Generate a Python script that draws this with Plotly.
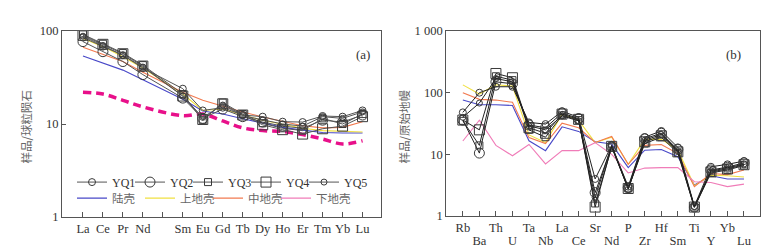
import plotly.graph_objects as go

# ---------------- Panel (a): REE chondrite-normalised ----------------
ree_ticks = ["La", "Ce", "Pr", "Nd", "", "Sm", "Eu", "Gd", "Tb", "Dy", "Ho", "Er", "Tm", "Yb", "Lu"]
ree_elems = ["La", "Ce", "Pr", "Nd", "Sm", "Eu", "Gd", "Tb", "Dy", "Ho", "Er", "Tm", "Yb", "Lu"]

ree_YQ1 = [85, 68, 55, 40, 24, 14, 15, 12.5, 12, 10.6, 10.5, 12.2, 12, 14]
ree_YQ2 = [77, 60, 47, 34, 19, 11.5, 14.5, 12, 10.5, 9.5, 9, 11, 10.5, 12.5]
ree_YQ3 = [92, 73, 58, 43, 21, 11, 17, 12.8, 10.2, 9, 8.5, 11.5, 10, 12.8]
ree_YQ4 = [90, 72, 57, 42, 20, 11.2, 16.5, 12.5, 9.8, 8.7, 7.8, 8.9, 9.5, 12]
ree_YQ5 = [88, 70, 55, 41, 20, 11.8, 16, 12.3, 11, 10, 9.5, 12, 11.5, 13.5]

ree_cc = [54, 45, 38, 30, 18.5, 13.8, 12.8, 11.4, 10.2, 9.2, 8.6, 8.1, 8.0, 8.0]
ree_uc = [83, 68, 53, 40, 21, 14, 14.5, 12.5, 11, 10, 9, 8.5, 8.3, 8.2]
ree_mc = [67, 56, 47, 36, 22, 18, 15.5, 13.5, 11.9, 10.6, 9.6, 9.1, 9.2, 10.6]
ree_lc = [22, 21, 18, 15.3, 12.3, 12.8, 10.8, 9.1, 8.5, 8.3, 7.7, 6.9, 6.1, 6.6]

# ---------------- Panel (b): primitive-mantle spider ----------------
tr_elems = ["Rb", "Ba", "Th", "U", "Ta", "Nb", "La", "Ce", "Sr", "Nd",
            "P", "Zr", "Hf", "Sm", "Ti", "Y", "Yb", "Lu"]

tr_YQ1 = [48, 100, 125, 125, 33, 31, 50, 40, 4.0, 14, 3.0, 19, 24, 13, 1.45, 6.3, 6.9, 7.8]
tr_YQ2 = [36, 10.5, 150, 140, 30, 27, 47, 38, 2.4, 13.5, 2.9, 18, 22, 12, 1.4, 5.6, 6.2, 7.3]
tr_YQ3 = [35, 14, 185, 160, 25, 19, 43, 36, 1.6, 13, 2.8, 15, 19, 10.5, 1.38, 5.0, 5.6, 6.6]
tr_YQ4 = [36, 25, 205, 175, 27, 22, 45, 37, 1.4, 13.5, 2.8, 16, 20, 11, 1.4, 5.2, 5.8, 6.8]
tr_YQ5 = [40, 68, 170, 150, 29, 25, 42, 35, 2.0, 14, 2.7, 17, 21, 11.5, 1.42, 5.4, 6.0, 7.0]

tr_cc = [76, 64, 64, 62, 16.6, 11.5, 28, 23.6, 16, 14.7, 6.1, 11.7, 12, 9.2, 3.2, 4.5, 4.0, 4.0]
tr_uc = [134, 95, 135, 128, 20.7, 15.6, 45, 36, 15.5, 19, 6.9, 17.5, 17.5, 11.8, 3.1, 4.6, 4.5, 4.3]
tr_mc = [100, 78, 76, 70, 18.7, 15, 32, 27, 15.6, 19.5, 6.9, 14, 14.5, 10.3, 3.0, 4.9, 4.7, 5.6]
tr_lc = [16.5, 36, 14, 9.5, 14.5, 7, 11.5, 11.5, 15.5, 10, 5, 6, 6.1, 6.1, 3.6, 3.5, 3.0, 3.3]

samples = ["YQ1", "YQ2", "YQ3", "YQ4", "YQ5"]
crusts = ["陆壳", "上地壳", "中地壳", "下地壳"]

FONT = "Liberation Serif, Times New Roman, Noto Sans CJK SC, serif"
CJK = "Noto Sans CJK SC, sans-serif"
AX = "#555555"
TXT = "#333333"
DARK = "#3a3a3a"
TFS = 12.5

sym = ["circle-open", "circle-open", "square-open", "square-open", "circle-open"]
msz = [7, 10, 7, 10, 6]
ccol = ["#4848c8", "#f0e040", "#f27a50", "#f07cb8"]

ree_x = [ree_ticks.index(e) for e in ree_elems]
tr_x = list(range(len(tr_elems)))

fig = go.Figure()

ree_samples = [ree_YQ1, ree_YQ2, ree_YQ3, ree_YQ4, ree_YQ5]
tr_samples = [tr_YQ1, tr_YQ2, tr_YQ3, tr_YQ4, tr_YQ5]

# crust references in (a)
for i, vals in enumerate([ree_cc, ree_uc, ree_mc]):
    fig.add_trace(go.Scatter(x=ree_x, y=vals, mode="lines", name=crusts[i],
                             line=dict(color=ccol[i], width=1.1),
                             legend="legend2", showlegend=True,
                             xaxis="x", yaxis="y"))
fig.add_trace(go.Scatter(x=ree_x, y=ree_lc, mode="lines", name=crusts[3],
                         line=dict(color="#e8108a", width=3.5, dash="8px,5px", shape="spline"),
                         showlegend=False, xaxis="x", yaxis="y"))

for i, vals in enumerate(ree_samples):
    fig.add_trace(go.Scatter(x=ree_x, y=vals, mode="lines+markers", name=samples[i],
                             line=dict(color="#555555", width=1),
                             marker=dict(symbol=sym[i], size=msz[i], color=DARK,
                                         line=dict(width=1, color=DARK)),
                             legend="legend", showlegend=True,
                             xaxis="x", yaxis="y"))

# crust references in (b)
for i, vals in enumerate([tr_cc, tr_uc, tr_mc, tr_lc]):
    fig.add_trace(go.Scatter(x=tr_x, y=vals, mode="lines", name=crusts[i],
                             line=dict(color=ccol[i], width=1.1),
                             legend="legend2", showlegend=(i == 3),
                             xaxis="x2", yaxis="y2"))

for i, vals in enumerate(tr_samples):
    fig.add_trace(go.Scatter(x=tr_x, y=vals, mode="lines+markers", name=samples[i],
                             line=dict(color="#222222", width=1),
                             marker=dict(symbol=sym[i], size=msz[i], color=DARK,
                                         line=dict(width=1, color=DARK)),
                             showlegend=False, xaxis="x2", yaxis="y2"))

# empty legend spacers (give room to the last legend label in each row)
for lg in ["legend", "legend2"]:
    fig.add_trace(go.Scatter(x=[None], y=[None], mode="lines", name=" ",
                             line=dict(width=0, color="rgba(0,0,0,0)"),
                             legend=lg, showlegend=True, hoverinfo="skip",
                             xaxis="x", yaxis="y"))

even_text = [e if i % 2 == 0 else "" for i, e in enumerate(tr_elems)]
odd_x = [i for i in tr_x if i % 2 == 1]
odd_text = [tr_elems[i] for i in odd_x]

# invisible helper trace so the second-row label axis is drawn
fig.add_trace(go.Scatter(x=odd_x, y=[tr_cc[i] for i in odd_x], mode="lines",
                         line=dict(width=0, color="rgba(0,0,0,0)"), opacity=0,
                         showlegend=False, hoverinfo="skip", xaxis="x3", yaxis="y2"))

W, H = 775, 250
ax_common = dict(showline=True, linecolor=AX, linewidth=1.2, mirror=True,
                 showgrid=False, zeroline=False, tickangle=0,
                 tickfont=dict(family=FONT, size=TFS, color=TXT))

fig.update_layout(
    width=W, height=H,
    margin=dict(l=0, r=0, t=0, b=0),
    paper_bgcolor="white", plot_bgcolor="white",
    xaxis=dict(domain=[54 / W, 372.5 / W], range=[-1.05, 14.9],
               tickmode="array", tickvals=list(range(len(ree_ticks))), ticktext=ree_ticks,
               ticks="inside", ticklen=5, tickcolor=AX, anchor="y", **ax_common),
    yaxis=dict(domain=[1 - 214 / H, 1 - 17 / H], type="log", range=[0, 2],
               tickmode="array", tickvals=[1, 10, 100], ticktext=["1", "10", "100"],
               ticks="inside", ticklen=4, tickcolor=AX, anchor="x", **ax_common),
    xaxis2=dict(domain=[438.3 / W, 751.7 / W], range=[-1.0, 17.95],
                tickmode="array", tickvals=tr_x, ticktext=even_text,
                ticks="inside", ticklen=5, tickcolor=AX, anchor="y2", **ax_common),
    xaxis3=dict(overlaying="x2", range=[-1.0, 17.95], side="bottom", anchor="y2",
                tickmode="array", tickvals=odd_x, ticktext=odd_text,
                ticks="", showline=False, showgrid=False, zeroline=False, tickangle=0,
                ticklabelstandoff=15,
                tickfont=dict(family=FONT, size=TFS, color=TXT)),
    yaxis2=dict(domain=[1 - 213 / H, 1 - 17 / H], type="log", range=[0, 3],
                tickmode="array", tickvals=[1, 10, 100, 1000],
                ticktext=["1", "10", "100", "1 000"],
                ticks="inside", ticklen=4, tickcolor=AX, anchor="x2", **ax_common),
    legend=dict(orientation="h", x=64 / W, y=1 - 177 / H, xanchor="left", yanchor="middle",
                font=dict(family=FONT, size=12, color=TXT), bgcolor="rgba(0,0,0,0)",
                entrywidth=13, entrywidthmode="pixels", itemwidth=30, tracegroupgap=0),
    legend2=dict(orientation="h", x=64 / W, y=1 - 194 / H, xanchor="left", yanchor="middle",
                 font=dict(family=CJK, size=11.5, color="#666666"), bgcolor="rgba(0,0,0,0)",
                 entrywidth=23, entrywidthmode="pixels", itemwidth=30, tracegroupgap=0),
    showlegend=True,
    annotations=[
        dict(text="(a)", x=355 / W, y=1 - 32 / H, xref="paper", yref="paper",
             showarrow=False, font=dict(family=FONT, size=13, color=TXT)),
        dict(text="(b)", x=735 / W, y=1 - 32 / H, xref="paper", yref="paper",
             showarrow=False, font=dict(family=FONT, size=13, color=TXT)),
        dict(text="样品/球粒陨石", x=18 / W, y=1 - 118 / H, xref="paper", yref="paper",
             xanchor="center", yanchor="middle",
             textangle=-90, showarrow=False, font=dict(family=CJK, size=11.5, color="#666666")),
        dict(text="样品/原始地幔", x=396 / W, y=1 - 118 / H, xref="paper", yref="paper",
             xanchor="center", yanchor="middle",
             textangle=-90, showarrow=False, font=dict(family=CJK, size=11.5, color="#666666")),
    ],
)

fig.write_html("out.html")
